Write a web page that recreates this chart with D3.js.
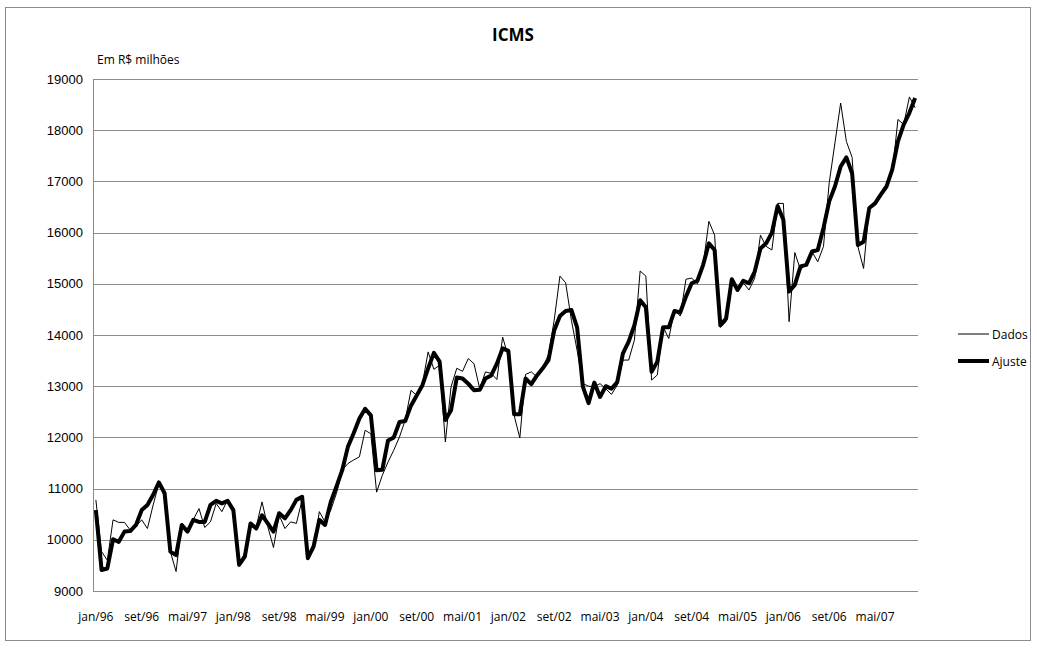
<!DOCTYPE html>
<html>
    <head>
        <meta charset="utf-8">
        <script src="https://d3js.org/d3.v7.min.js"></script>
        <style>
            body {
                margin: 0;
                background: white;
            }
            text {
                fill: black;
            }
        </style>
    </head>
    <body>
    </body>
    <script>

        const width = 1037;
        const height = 648;
        const plot = {left: 93, right: 918, top: 79, bottom: 591};

        // categories: jan/96 .. dez/07
        const monthNames = ['jan','fev','mar','abr','mai','jun','jul','ago','set','out','nov','dez'];
        const years = ['96','97','98','99','00','01','02','03','04','05','06','07'];
        const yTicks = [9000, 10000, 11000, 12000, 13000, 14000, 15000, 16000, 17000, 18000, 19000];

        var categories = [];
        years.forEach(function(y) {
            monthNames.forEach(function(m) { categories.push(m + '/' + y); });
        });

        // Dados (thin line), R$ milhoes
        const dados = [
            10780, 9770, 9600, 10390, 10340, 10340, 10190, 10260, 10390, 10220, 10680, 11100,
            10850, 9770, 9380, 10320, 10190, 10390, 10610, 10240, 10350, 10710, 10550, 10780,
            10520, 9540, 9740, 10320, 10260, 10740, 10260, 9850, 10480, 10220, 10350, 10320,
            10780, 9670, 9800, 10550, 10350, 10580, 10910, 11360, 11490, 11560, 11620, 12140,
            12070, 10930, 11260, 11520, 11750, 12010, 12340, 12920, 12820, 13050, 13670, 13330,
            13410, 11910, 12990, 13350, 13290, 13540, 13440, 12950, 13280, 13250, 13130, 13960,
            13570, 12430, 11990, 13230, 13280, 13180, 13380, 13610, 14290, 15150, 15020, 14290,
            13700, 13050, 13000, 12990, 13050, 12950, 12840, 13020, 13510, 13510, 13900, 15250,
            15150, 13120, 13220, 14160, 13930, 14490, 14370, 15090, 15110, 15000, 15370, 16220,
            15950, 14150, 14260, 15110, 14880, 15020, 14880, 15110, 15950, 15730, 15660, 16570,
            16570, 14260, 15610, 15270, 15410, 15630, 15430, 15730, 16970, 17750, 18530, 17780,
            17470, 15730, 15300, 16510, 16570, 16700, 16900, 17160, 18210, 18110, 18650, 18440
        ];

        // Ajuste (thick line)
        const ajuste = [
            10580, 9410, 9440, 10010, 9960, 10160, 10170, 10290, 10580, 10680, 10880, 11120,
            10910, 9770, 9700, 10290, 10160, 10390, 10350, 10350, 10680, 10760, 10710, 10760,
            10580, 9510, 9670, 10320, 10220, 10480, 10320, 10160, 10520, 10420, 10580, 10780,
            10840, 9640, 9870, 10390, 10290, 10740, 11040, 11360, 11820, 12080, 12370, 12560,
            12430, 11360, 11370, 11940, 12000, 12300, 12320, 12620, 12820, 13020, 13350, 13650,
            13480, 12340, 12530, 13170, 13150, 13050, 12920, 12930, 13150, 13210, 13440, 13740,
            13690, 12450, 12450, 13150, 13040, 13210, 13350, 13510, 14090, 14370, 14470, 14490,
            14150, 12990, 12670, 13070, 12790, 13000, 12950, 13080, 13640, 13870, 14190, 14680,
            14540, 13280, 13480, 14150, 14150, 14470, 14440, 14750, 15010, 15060, 15370, 15790,
            15660, 14190, 14320, 15090, 14880, 15060, 15010, 15240, 15690, 15790, 16000, 16520,
            16250, 14850, 14980, 15340, 15370, 15630, 15660, 16090, 16610, 16900, 17290, 17470,
            17160, 15760, 15820, 16480, 16570, 16740, 16900, 17230, 17780, 18110, 18340, 18630
        ];

        const legendItems = [
            {name: 'Dados', data: dados, stroke: 1},
            {name: 'Ajuste', data: ajuste, stroke: 4}
        ];

        var svg = d3.select('body')
            .append('svg')
            .attr('width', width)
            .attr('height', height);

        // outer frame
        svg.append('rect')
            .attr('x', 5.5)
            .attr('y', 7.5)
            .attr('width', 1025)
            .attr('height', 633)
            .style('fill', 'white')
            .style('stroke', '#8c8c8c');

        var xScale = d3.scalePoint()
            .domain(categories)
            .range([plot.left, plot.right])
            .padding(0.5);

        var yScale = d3.scaleLinear()
            .domain([9000, 19000])
            .range([plot.bottom, plot.top]);

        // gridlines
        svg.append('g')
            .selectAll('line')
            .data(yTicks)
            .enter()
            .append('line')
            .attr('x1', plot.left)
            .attr('x2', plot.right)
            .attr('y1', function(d) { return Math.round(yScale(d)) + 0.5; })
            .attr('y2', function(d) { return Math.round(yScale(d)) + 0.5; })
            .style('stroke', '#8c8c8c');

        svg.append('line')
            .attr('x1', plot.left + 0.5)
            .attr('x2', plot.left + 0.5)
            .attr('y1', plot.top)
            .attr('y2', plot.bottom + 1)
            .style('stroke', '#8c8c8c');

        // y tick labels
        svg.append('g')
            .selectAll('text')
            .data(yTicks)
            .enter()
            .append('text')
            .attr('x', 83)
            .attr('y', function(d) { return yScale(d) + 4.5; })
            .attr('text-anchor', 'end')
            .style('font-family', 'Liberation Sans, Arial, sans-serif')
            .style('font-size', '13px')
            .text(function(d) { return d; });

        // x tick labels every 8 months
        var xLabels = categories.filter(function(d, i) { return i % 8 === 0; });
        svg.append('g')
            .selectAll('text')
            .data(xLabels)
            .enter()
            .append('text')
            .attr('x', function(d) { return xScale(d); })
            .attr('y', 621)
            .attr('text-anchor', 'middle')
            .style('font-family', 'Open Sans, sans-serif')
            .style('font-size', '12px')
            .text(function(d) { return d; });

        // series
        var line = d3.line()
            .x(function(d, i) { return xScale(categories[i]); })
            .y(function(d) { return yScale(d); });

        legendItems.forEach(function(s) {
            svg.append('path')
                .datum(s.data)
                .attr('d', line)
                .style('fill', 'none')
                .style('stroke', 'black')
                .style('stroke-width', s.stroke)
                .style('stroke-linejoin', 'round');
        });

        // legend
        var legend = svg.append('g')
            .selectAll('g')
            .data(legendItems)
            .enter()
            .append('g')
            .attr('transform', function(d, i) { return 'translate(958,' + (334 + i * 27) + ')'; });

        legend.append('line')
            .attr('x1', 0)
            .attr('x2', 31)
            .style('stroke', 'black')
            .style('stroke-width', function(d) { return d.stroke; });

        legend.append('text')
            .attr('x', 34)
            .attr('y', 4.5)
            .style('font-family', 'Open Sans, sans-serif')
            .style('font-size', '12px')
            .text(function(d) { return d.name; });

        // titles
        svg.append('text')
            .attr('x', 513)
            .attr('y', 41)
            .attr('text-anchor', 'middle')
            .style('font-family', 'Open Sans, sans-serif')
            .style('font-size', '17px')
            .style('font-weight', 'bold')
            .text('ICMS');

        svg.append('text')
            .attr('x', 97)
            .attr('y', 64)
            .style('font-family', 'Open Sans, sans-serif')
            .style('font-size', '12px')
            .text('Em R$ milhões');

    </script>
</html>
